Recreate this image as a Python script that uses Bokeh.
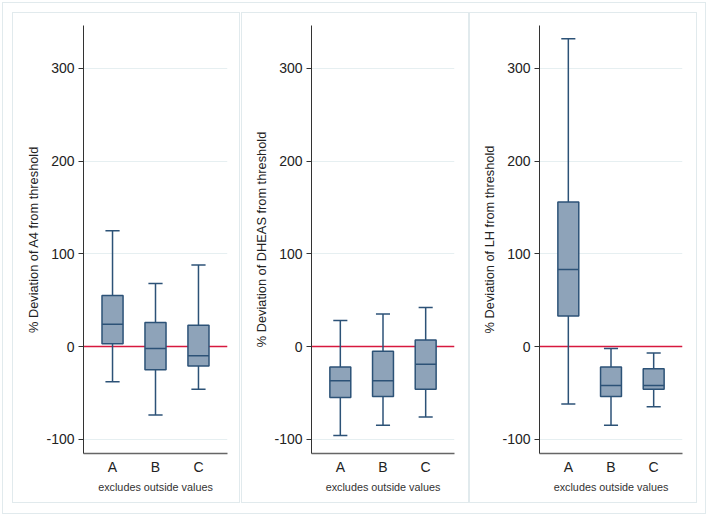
from bokeh.plotting import figure
from bokeh.layouts import row
from bokeh.models import FactorRange, Range1d, Span, ColumnDataSource, FixedTicker
from bokeh.transform import dodge
from bokeh.embed import file_html
from bokeh.resources import INLINE

categories = ["A", "B", "C"]
y_titles = ["% Deviation of A4 from threshold",
            "% Deviation of DHEAS from threshold",
            "% Deviation of LH from threshold"]
x_note = "excludes outside values"
y_ticks = [-100, 0, 100, 200, 300]
y_tick_labels = {-100: "-100", 0: "0", 100: "100", 200: "200", 300: "300"}

# Panel 1: A4
a4_lower = [-38, -74, -46]
a4_q1 = [3, -25, -21]
a4_median = [24, -2, -10]
a4_q3 = [55, 26, 23]
a4_upper = [125, 68, 88]

# Panel 2: DHEAS
dheas_lower = [-96, -85, -76]
dheas_q1 = [-55, -54, -46]
dheas_median = [-37, -37, -19]
dheas_q3 = [-22, -5, 7]
dheas_upper = [28, 35, 42]

# Panel 3: LH
lh_lower = [-62, -85, -65]
lh_q1 = [33, -54, -46]
lh_median = [83, -42, -42]
lh_q3 = [156, -22, -24]
lh_upper = [332, -2, -7]

panels = [
    (a4_lower, a4_q1, a4_median, a4_q3, a4_upper),
    (dheas_lower, dheas_q1, dheas_median, dheas_q3, dheas_upper),
    (lh_lower, lh_q1, lh_median, lh_q3, lh_upper),
]

FONT = "Liberation Sans"
BOX_FILL = "#8ea3b9"
BOX_LINE = "#2c5277"
REF_RED = "#d7193f"
GRID = "#e6eff1"
FRAME = "#e1eaed"
BOX_W = 0.49
CAP_W = 0.33
H = 515

# canvas geometry per panel (pixels)
geom = [
    dict(w=240, bl=83, br=13, px0=12, px1=239, ox0=2, ox1=None),
    dict(w=229, bl=71, br=15, px0=1, px1=228, ox0=None, ox1=None),
    dict(w=239, bl=70, br=26, px0=0, px1=227, ox0=None, ox1=236),
]
PY0, PY1 = 12, 502
OY0, OY1 = 2, 513


def frame_css(g):
    rects = []
    w = g["w"]
    # panel frame
    rects.append((g["px0"], PY0, 1, PY1 - PY0 + 1))
    rects.append((g["px1"], PY0, 1, PY1 - PY0 + 1))
    rects.append((g["px0"], PY0, g["px1"] - g["px0"] + 1, 1))
    rects.append((g["px0"], PY1, g["px1"] - g["px0"] + 1, 1))
    # outer frame
    x0 = g["ox0"] if g["ox0"] is not None else 0
    x1 = g["ox1"] if g["ox1"] is not None else w - 1
    rects.append((x0, OY0, x1 - x0 + 1, 1))
    rects.append((x0, OY1, x1 - x0 + 1, 1))
    if g["ox0"] is not None:
        rects.append((g["ox0"], OY0, 1, OY1 - OY0 + 1))
    if g["ox1"] is not None:
        rects.append((g["ox1"], OY0, 1, OY1 - OY0 + 1))
    grad = "linear-gradient(%s, %s)" % (FRAME, FRAME)
    return {
        "background-color": "white",
        "background-image": ", ".join([grad] * len(rects)),
        "background-size": ", ".join("%dpx %dpx" % (r[2], r[3]) for r in rects),
        "background-position": ", ".join("%dpx %dpx" % (r[0], r[1]) for r in rects),
        "background-repeat": "no-repeat",
    }


def make_panel(title, stats, g):
    lower, q1, med, q3, upper = stats
    src = ColumnDataSource(dict(cat=categories, lower=lower, q1=q1,
                                med=med, q3=q3, upper=upper))
    p = figure(width=g["w"], height=H, output_backend="svg", toolbar_location=None,
               x_range=FactorRange(factors=categories, range_padding=0.117),
               y_range=Range1d(-115.4, 346.3),
               min_border_left=g["bl"], min_border_right=g["br"],
               min_border_top=25, min_border_bottom=H - 453)
    p.styles = frame_css(g)
    p.outline_line_color = None
    p.background_fill_color = "white"
    p.border_fill_color = None

    p.xgrid.grid_line_color = None
    p.ygrid.grid_line_color = GRID
    p.ygrid.ticker = FixedTicker(ticks=y_ticks)

    zero = Span(location=0, dimension="width", line_color=REF_RED,
                line_width=1.3, level="underlay")
    p.add_layout(zero)

    # whiskers
    p.segment(x0="cat", y0="q3", x1="cat", y1="upper", source=src,
              line_color=BOX_LINE, line_width=1.5)
    p.segment(x0="cat", y0="q1", x1="cat", y1="lower", source=src,
              line_color=BOX_LINE, line_width=1.5)
    # caps
    for col in ("upper", "lower"):
        p.segment(x0=dodge("cat", -CAP_W / 2, range=p.x_range), y0=col,
                  x1=dodge("cat", CAP_W / 2, range=p.x_range), y1=col,
                  source=src, line_color=BOX_LINE, line_width=1.5)
    # boxes
    p.vbar(x="cat", top="q3", bottom="q1", width=BOX_W, source=src,
           fill_color=BOX_FILL, line_color=BOX_LINE, line_width=1.5)
    # medians
    p.segment(x0=dodge("cat", -BOX_W / 2, range=p.x_range), y0="med",
              x1=dodge("cat", BOX_W / 2, range=p.x_range), y1="med",
              source=src, line_color=BOX_LINE, line_width=1.5)

    ya = p.yaxis[0]
    ya.ticker = FixedTicker(ticks=y_ticks)
    ya.major_label_overrides = y_tick_labels
    ya.axis_label = title
    ya.axis_label_text_font = FONT
    ya.axis_label_text_font_size = "12.8px"
    ya.axis_label_text_font_style = "normal"
    ya.axis_label_text_color = "#222222"
    ya.axis_label_standoff = 2
    ya.major_label_text_font = FONT
    ya.major_label_text_font_size = "14px"
    ya.major_label_text_color = "#222222"
    ya.major_label_standoff = 4
    ya.major_tick_out = 5
    ya.major_tick_in = 0
    ya.minor_tick_out = 0
    ya.minor_tick_in = 0
    ya.axis_line_color = "#333333"
    ya.major_tick_line_color = "#333333"

    xa = p.xaxis[0]
    xa.axis_label = x_note
    xa.axis_label_text_font = FONT
    xa.axis_label_text_font_size = "10.8px"
    xa.axis_label_text_font_style = "normal"
    xa.axis_label_text_color = "#333333"
    xa.axis_label_standoff = 3
    xa.major_label_text_font = FONT
    xa.major_label_text_font_size = "14px"
    xa.major_label_text_color = "#222222"
    xa.major_label_standoff = 5
    xa.major_tick_out = 0
    xa.major_tick_in = 0
    xa.axis_line_color = "#666666"
    xa.axis_line_width = 1.3
    return p


figs = [make_panel(t, s, g) for t, s, g in zip(y_titles, panels, geom)]
layout = row(*figs, spacing=0)

open("out.html", "w").write(file_html(layout, INLINE))
